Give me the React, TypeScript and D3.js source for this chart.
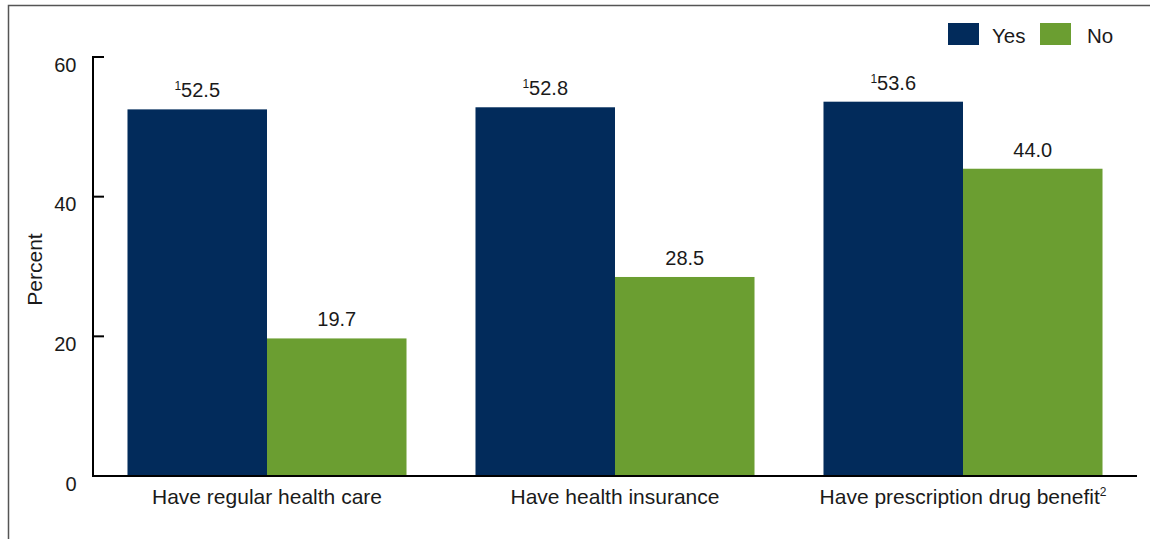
import React from "react";
import * as d3 from "d3";

const categories = ["Have regular health care", "Have health insurance", "Have prescription drug benefit"];
const categorySup = ["", "", "2"];
const series = ["Yes", "No"];
const yesValues = [52.5, 52.8, 53.6];
const noValues = [19.7, 28.5, 44.0];
const yesSup = ["1", "1", "1"];
const noSup = ["", "", ""];
const yTicks = [0, 20, 40, 60];

const W = 1150;
const H = 539;
const colors = ["#022b5b", "#6b9e31"];
const FONT = "Arial, 'Liberation Sans', Helvetica, sans-serif";

export default function App() {
  const x0 = 93, x1 = 1137, yTop = 57, yBot = 476;
  const x = d3.scaleBand<string>().domain(categories).range([x0, x1]).paddingInner(0.1982).paddingOuter(0.0991);
  const xs = d3.scaleBand<string>().domain(series).range([0, x.bandwidth()]);
  const y = d3.scaleLinear().domain([0, 60]).range([yBot, yTop]);
  const vals = [yesValues, noValues];
  const sups = [yesSup, noSup];
  const legendX = [948, 1040];
  const legendTextDx = [44, 47];

  return (
    <svg width={W} height={H} style={{ position: "absolute", left: 0, top: 0 }} fontFamily={FONT}>
      <rect x={0} y={0} width={W} height={H} fill="#fff" />
      <path d={`M8.5,${H + 5}V5.5H${W + 5}`} fill="none" stroke="#555" strokeWidth={1.5} />
      {/* bars */}
      {categories.map((c, i) =>
        series.map((s, j) => {
          const v = vals[j][i];
          const bx = (x(c) as number) + (xs(s) as number);
          const bw = xs.bandwidth();
          return (
            <g key={c + s}>
              <rect x={bx} y={y(v)} width={bw} height={yBot - y(v)} fill={colors[j]} />
              <text x={bx + bw / 2} y={y(v) - 12} textAnchor="middle" fontSize={20} fill="#1a1a1a">
                {sups[j][i] ? (
                  <tspan fontSize={12} dy={-7}>{sups[j][i]}</tspan>
                ) : null}
                <tspan dy={sups[j][i] ? 7 : 0}>{v.toFixed(1)}</tspan>
              </text>
            </g>
          );
        })
      )}
      {/* y axis */}
      <line x1={x0} x2={x0} y1={yTop - 1} y2={yBot + 1} stroke="#000" strokeWidth={2} />
      {yTicks.map((t) => (
        <g key={t}>
          <line x1={x0} x2={x0 + 11} y1={y(t)} y2={y(t)} stroke="#000" strokeWidth={2} />
          <text x={76.5} y={y(t) + 14.5} textAnchor="end" fontSize={20} fill="#1a1a1a">{t}</text>
        </g>
      ))}
      <text transform={`translate(41.5,${(yTop + yBot) / 2 + 3}) rotate(-90)`} textAnchor="middle" fontSize={21} fill="#1a1a1a">Percent</text>
      {/* x axis */}
      <line x1={x0 - 1} x2={x1} y1={yBot} y2={yBot} stroke="#000" strokeWidth={2} />
      {categories.map((c, i) => (
        <text key={c} x={(x(c) as number) + x.bandwidth() / 2} y={504} textAnchor="middle" fontSize={21} fill="#1a1a1a">
          {c}
          {categorySup[i] ? <tspan fontSize={12} dy={-8}>{categorySup[i]}</tspan> : null}
        </text>
      ))}
      {/* legend */}
      {series.map((s, j) => (
        <g key={s} transform={`translate(${legendX[j]},23)`}>
          <rect x={0} y={0} width={31} height={22} fill={colors[j]} />
          <text x={legendTextDx[j]} y={20} fontSize={20.5} fill="#1a1a1a">{s}</text>
        </g>
      ))}
    </svg>
  );
}
